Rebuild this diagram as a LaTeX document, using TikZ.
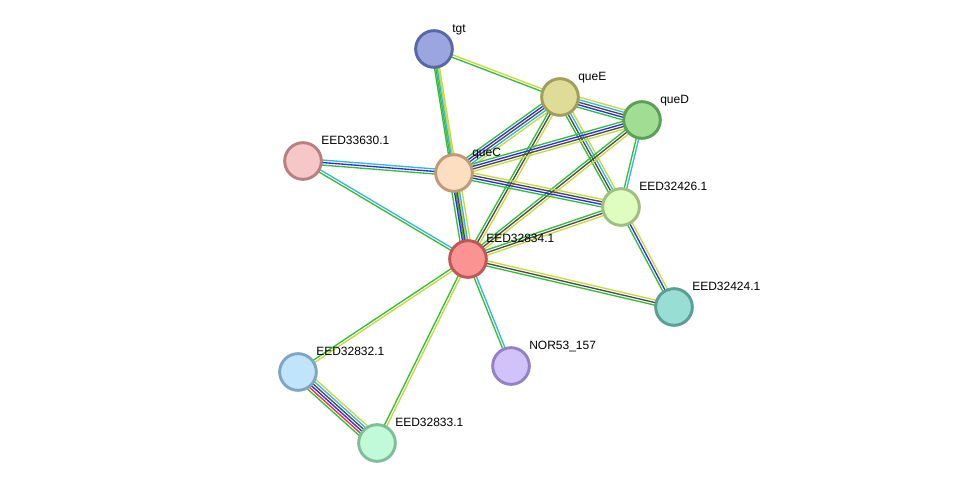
\documentclass[tikz,border=0pt]{standalone}
\usepackage{fontspec}
\setmainfont{Liberation Sans}
\usetikzlibrary{calc,backgrounds}

% evidence colours
\definecolor{nbh}{HTML}{35BD35}
\definecolor{txt}{HTML}{C5DA3E}
\definecolor{dbs}{HTML}{36B6DE}
\definecolor{coc}{HTML}{2B2BEE}
\definecolor{cex}{HTML}{4A4A4A}
\definecolor{fus}{HTML}{EE3030}

% node fills and rims
\definecolor{tgtF}{HTML}{9BA5E0}\definecolor{tgtD}{HTML}{5767A8}
\definecolor{queEF}{HTML}{DEDC97}\definecolor{queED}{HTML}{A09E5B}
\definecolor{queDF}{HTML}{A0DE94}\definecolor{queDD}{HTML}{5C9E55}
\definecolor{e630F}{HTML}{F7C6C6}\definecolor{e630D}{HTML}{B88080}
\definecolor{queCF}{HTML}{FDDEC0}\definecolor{queCD}{HTML}{BF9A78}
\definecolor{e426F}{HTML}{E0FDC0}\definecolor{e426D}{HTML}{A0BE80}
\definecolor{e834F}{HTML}{FB9393}\definecolor{e834D}{HTML}{C05656}
\definecolor{e424F}{HTML}{98DED5}\definecolor{e424D}{HTML}{5A9E95}
\definecolor{norF}{HTML}{D2C2FA}\definecolor{norD}{HTML}{9480C2}
\definecolor{e832F}{HTML}{C0E5FB}\definecolor{e832D}{HTML}{80A5C0}
\definecolor{e833F}{HTML}{C0FAD8}\definecolor{e833D}{HTML}{80BE98}

% a bundle of parallel lines between two nodes, one per colour
\newcommand{\linkset}[3]{%
  \foreach \col [count=\n] in {#3} {\xdef\linkn{\n}}%
  \foreach \col [count=\i] in {#3} {%
    \pgfmathsetmacro{\off}{(\i-(\linkn+1)/2)*1.9}%
    \draw[link, \col] ($(#1)!\off pt!90:(#2)$) -- ($(#2)!\off pt!-90:(#1)$);
  }}

\begin{document}
\begin{tikzpicture}[x=0.75pt, y=-0.75pt,
	prot/.style={circle, draw=#1D, fill=#1F, line width=2.2pt,
		minimum size=27.5pt, inner sep=0pt},
	tag/.style={anchor=base west, inner sep=0pt, font=\fontsize{9}{10}\selectfont},
	link/.style={line width=1pt}
]
	\useasboundingbox (0,0) rectangle (976,489);

	% proteins
	\node[prot=tgt] (tgt) at (434,49) {};
	\node[prot=queE] (queE) at (560,97) {};
	\node[prot=queD] (queD) at (642,120) {};
	\node[prot=e630] (e630) at (303,161) {};
	\node[prot=queC] (queC) at (454,173) {};
	\node[prot=e426] (e426) at (621,207) {};
	\node[prot=e834] (e834) at (468,259) {};
	\node[prot=e424] (e424) at (674,307) {};
	\node[prot=nor] (nor) at (511,366) {};
	\node[prot=e832] (e832) at (298,372) {};
	\node[prot=e833] (e833) at (377,443) {};

	% names
	\node[tag] (tgt-t) at ($(tgt)+(18,-17)$) {tgt};
	\node[tag] (queE-t) at ($(queE)+(18,-17)$) {queE};
	\node[tag] (queD-t) at ($(queD)+(18,-17)$) {queD};
	\node[tag] (e630-t) at ($(e630)+(18,-17)$) {EED33630.1};
	\node[tag] (queC-t) at ($(queC)+(18,-17)$) {queC};
	\node[tag] (e426-t) at ($(e426)+(18,-17)$) {EED32426.1};
	\node[tag] (e834-t) at ($(e834)+(18,-17)$) {EED32834.1};
	\node[tag] (e424-t) at ($(e424)+(18,-17)$) {EED32424.1};
	\node[tag] (nor-t) at ($(nor)+(18,-17)$) {NOR53\_157};
	\node[tag] (e832-t) at ($(e832)+(18,-17)$) {EED32832.1};
	\node[tag] (e833-t) at ($(e833)+(18,-17)$) {EED32833.1};

	% interactions
	\begin{scope}[on background layer]
		\linkset{tgt}{e834}{nbh,txt}
		\linkset{tgt}{queE}{nbh,txt}
		\linkset{tgt}{queC}{nbh,dbs,txt}
		\linkset{queE}{queD}{nbh,coc,cex,dbs,txt}
		\linkset{queE}{queC}{nbh,coc,cex,dbs,txt}
		\linkset{queE}{e834}{nbh,cex,txt}
		\linkset{queE}{e426}{nbh,cex,dbs,txt}
		\linkset{queD}{queC}{nbh,coc,cex,txt}
		\linkset{queD}{e834}{nbh,cex,txt}
		\linkset{queD}{e426}{nbh,dbs}
		\linkset{e630}{queC}{nbh,coc,dbs}
		\linkset{e630}{e834}{nbh,dbs}
		\linkset{queC}{e426}{nbh,coc,cex,txt}
		\linkset{queC}{e834}{nbh,coc,cex,dbs,txt}
		\linkset{e426}{e834}{nbh,cex,txt}
		\linkset{e426}{e424}{nbh,coc,txt}
		\linkset{e834}{e424}{nbh,cex,txt}
		\linkset{e834}{nor}{nbh,dbs}
		\linkset{e834}{e832}{nbh,txt}
		\linkset{e834}{e833}{nbh,txt}
		\linkset{e832}{e833}{nbh,fus,coc,cex,dbs,txt}
	\end{scope}
\end{tikzpicture}
\end{document}
